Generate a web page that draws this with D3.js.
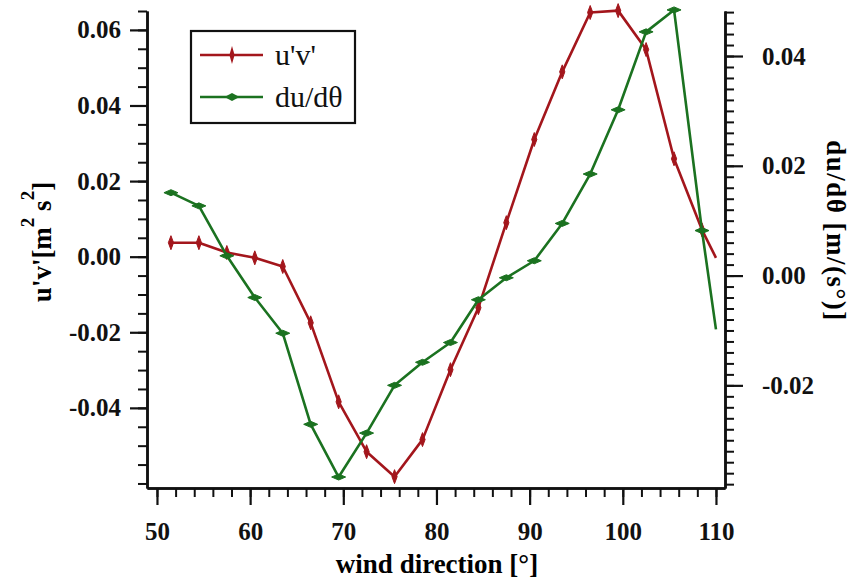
<!DOCTYPE html>
<html>
<head>
<meta charset="utf-8">
<script src="https://cdn.jsdelivr.net/npm/d3@7"></script>
<style>
  body { margin: 0; background: #fff; }
  svg { display: block; }
  .axis text { font-family: "Liberation Serif", "Times New Roman", serif; font-weight: bold; font-size: 25px; fill: #111; }
  .axis path, .axis line { stroke: #111; }
</style>
</head>
<body>
<div id="chart"></div>
<script>
// chart size
var svgWidth = 855;
var svgHeight = 579;

// plot frame (pixel box of the axes)
var frame = { left: 147, right: 725, top: 11, bottom: 488 };

// data
var windDir = [51.5, 54.5, 57.5, 60.5, 63.5, 66.5, 69.5, 72.5, 75.5, 78.5, 81.5,
               84.5, 87.5, 90.5, 93.5, 96.5, 99.5, 102.5, 105.5, 108.5, 110];
var uvFlux = [0.0037, 0.0037, 0.0011, -0.0003, -0.0026, -0.0175, -0.0384, -0.0516, -0.0582, -0.0484, -0.0299,
              -0.0135, 0.0090, 0.0310, 0.0489, 0.0646, 0.0651, 0.0548, 0.0259, 0.0071, -0.0003];
var dudTheta = [0.0151, 0.0127, 0.0036, -0.0040, -0.0105, -0.0271, -0.0367, -0.0287, -0.0200, -0.0158, -0.0122,
                -0.0044, -0.0004, 0.0027, 0.0095, 0.0185, 0.0302, 0.0444, 0.0484, 0.0082, -0.0098];

// ticks
var xTicks = [50, 60, 70, 80, 90, 100, 110];
var leftTicks = [-0.04, -0.02, 0.00, 0.02, 0.04, 0.06];
var rightTicks = [-0.02, 0.00, 0.02, 0.04];

var seriesNames = ["u'v'", "du/d\u03b8"];
var red = "#a3161c";
var green = "#1b7220";
var fontFam = '"Liberation Serif", "Times New Roman", serif';

var svg = d3.select("#chart").append("svg").attr("width", svgWidth).attr("height", svgHeight);

// Scales
var x = d3.scaleLinear().domain([48.93, 110.97]).range([frame.left, frame.right]);
var yL = d3.scaleLinear().domain([-0.0612, 0.065]).range([frame.bottom, frame.top]);
var yR = d3.scaleLinear().domain([-0.0387, 0.0482]).range([frame.bottom, frame.top]);

// minor ticks
var xMinor = d3.range(50, 111, 2);
var leftMinor = d3.range(-60, 66, 5).map(function(d){ return d / 1000; });
var rightMinor = d3.range(-38, 49, 2).map(function(d){ return d / 1000; });

////////////////////////////////////////////////////////////////////////////////////////
// Axes
function minorAxis(axisFn, scale, vals, size, tr) {
    svg.append("g").attr("class", "axis").attr("transform", tr)
        .call(axisFn(scale).tickValues(vals).tickSize(size).tickSizeOuter(0).tickFormat(""))
        .call(function(g){ g.select(".domain").attr("stroke-width", 2.5); })
        .selectAll(".tick line").attr("stroke-width", 2);
}
minorAxis(d3.axisBottom, x, xMinor, 9, "translate(0," + frame.bottom + ")");
minorAxis(d3.axisLeft, yL, leftMinor, 9, "translate(" + frame.left + ",0)");
minorAxis(d3.axisRight, yR, rightMinor, 9, "translate(" + frame.right + ",0)");

var xAxis = svg.append("g").attr("class", "axis").attr("transform", "translate(0," + frame.bottom + ")")
    .call(d3.axisBottom(x).tickValues(xTicks).tickSize(17).tickSizeOuter(0).tickPadding(17));
xAxis.selectAll(".tick line").attr("stroke-width", 2.2);
xAxis.select(".domain").attr("stroke-width", 2.5);

var lAxis = svg.append("g").attr("class", "axis").attr("transform", "translate(" + frame.left + ",0)")
    .call(d3.axisLeft(yL).tickValues(leftTicks).tickSize(17).tickSizeOuter(0).tickPadding(9)
        .tickFormat(function(d){ return d.toFixed(2); }));
lAxis.selectAll(".tick line").attr("stroke-width", 2.2);
lAxis.select(".domain").attr("stroke-width", 2.5);

var rAxis = svg.append("g").attr("class", "axis").attr("transform", "translate(" + frame.right + ",0)")
    .call(d3.axisRight(yR).tickValues(rightTicks).tickSize(18).tickSizeOuter(0).tickPadding(19)
        .tickFormat(function(d){ return d.toFixed(2); }));
rAxis.selectAll(".tick line").attr("stroke-width", 2.2);
rAxis.select(".domain").attr("stroke-width", 2.5);

////////////////////////////////////////////////////////////////////////////////////////
// Axis titles
svg.append("text")
    .attr("x", (frame.left + frame.right) / 2 + 1).attr("y", 573)
    .attr("text-anchor", "middle")
    .style("font-family", fontFam).style("font-weight", "bold").style("font-size", "27px")
    .text("wind direction [\u00b0]");

var lt = svg.append("text")
    .attr("transform", "translate(51,242) rotate(-90)")
    .attr("text-anchor", "middle")
    .style("font-family", fontFam).style("font-weight", "bold").style("font-size", "27px");
lt.append("tspan").text("u'v'[m");
lt.append("tspan").attr("dy", -17).style("font-size", "19px").text("2");
lt.append("tspan").attr("dy", 17).text(" s");
lt.append("tspan").attr("dy", -17).style("font-size", "19px").text("2");
lt.append("tspan").attr("dy", 17).text("]");

svg.append("text")
    .attr("transform", "translate(827,231) rotate(90)")
    .attr("text-anchor", "middle")
    .style("font-family", fontFam).style("font-weight", "bold").style("font-size", "27px")
    .style("letter-spacing", "1.5px")
    .text("du/d\u03b8 [m/(s\u00b0)]");

////////////////////////////////////////////////////////////////////////////////////////
// Lines and markers
var vDiamond = "M0,-7L2.6,0L0,7L-2.6,0Z";
var hDiamond = "M-7,0L0,-3L7,0L0,3Z";

function drawSeries(vals, yScale, color, marker) {
    var pts = windDir.map(function(d, i){ return [d, vals[i]]; });
    var line = d3.line().x(function(d){ return x(d[0]); }).y(function(d){ return yScale(d[1]); });
    svg.append("path").datum(pts)
        .attr("fill", "none").attr("stroke", color).attr("stroke-width", 2.6)
        .attr("stroke-linejoin", "round").attr("d", line);
    svg.append("g").selectAll("path").data(pts.slice(0, pts.length - 1)).enter().append("path")
        .attr("d", marker).attr("fill", color).attr("stroke", color).attr("stroke-width", 1)
        .attr("transform", function(d){ return "translate(" + x(d[0]) + "," + yScale(d[1]) + ")"; });
}
drawSeries(uvFlux, yL, red, vDiamond);
drawSeries(dudTheta, yR, green, hDiamond);

////////////////////////////////////////////////////////////////////////////////////////
// Legend
var legend = svg.append("g");
legend.append("rect").attr("x", 191).attr("y", 31).attr("width", 164).attr("height", 92)
    .attr("fill", "#fff").attr("stroke", "#111").attr("stroke-width", 2.2);
var legendItems = [
    { name: seriesNames[0], color: red, marker: "M0,-9L2.6,0L0,9L-2.6,0Z", y: 55 },
    { name: seriesNames[1], color: green, marker: "M-7.5,0L0,-4L7.5,0L0,4Z", y: 97 }
];
legendItems.forEach(function(d) {
    legend.append("line").attr("x1", 200).attr("x2", 263).attr("y1", d.y).attr("y2", d.y)
        .attr("stroke", d.color).attr("stroke-width", 2.6);
    legend.append("path").attr("d", d.marker).attr("fill", d.color)
        .attr("transform", "translate(232," + d.y + ")");
    legend.append("text").attr("x", 275).attr("y", d.y + 10)
        .style("font-family", fontFam).style("font-size", "30px").style("fill", "#111")
        .text(d.name);
});
</script>
</body>
</html>
